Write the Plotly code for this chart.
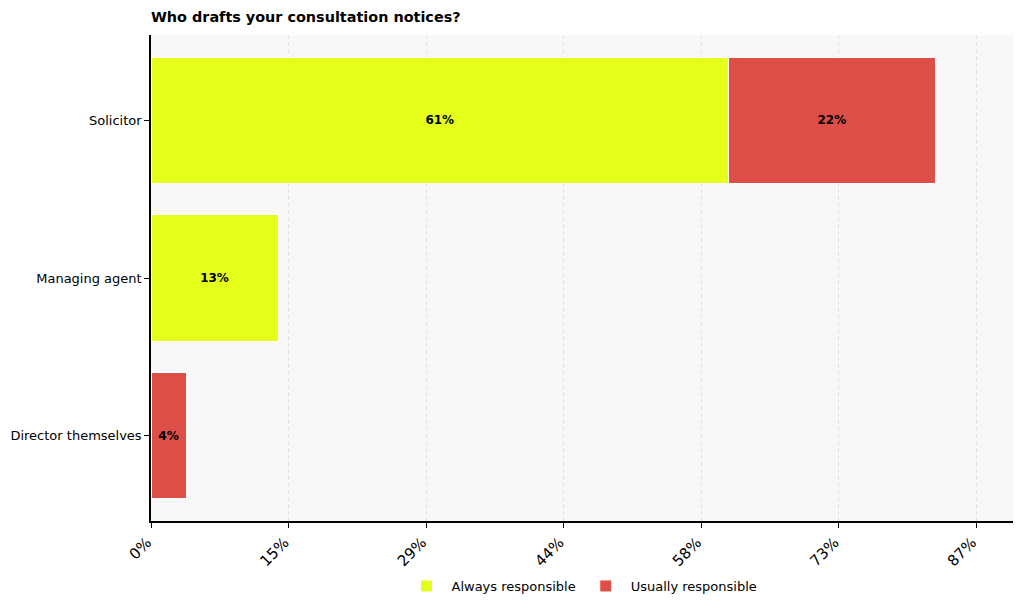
import plotly.graph_objects as go

# survey shares (%)
categories = ["Solicitor", "Managing agent", "Director themselves"]
always = [60.9, 13.4, 0]
usually = [21.8, 0, 3.7]
always_labels = ["61%", "13%", ""]
usually_labels = ["22%", "", "4%"]

tick_vals = [0, 14.5, 29, 43.5, 58, 72.5, 87]
tick_text = ["0%", "15%", "29%", "44%", "58%", "73%", "87%"]

FONT = "DejaVu Sans"
# the page body adds an 8px offset, so margins are measured from there
L, T, R, B = 143, 27, 19, 97

fig = go.Figure()
fig.add_trace(go.Bar(
    y=categories, x=always, orientation="h", name="Always responsible",
    marker=dict(color="#e3ff1a", line=dict(color="white", width=1)),
    text=always_labels, textposition="inside", insidetextanchor="middle",
    textfont=dict(family=FONT, size=12, color="black", weight="bold"),
))
fig.add_trace(go.Bar(
    y=categories, x=usually, orientation="h", name="Usually responsible",
    marker=dict(color="#dc4e46", line=dict(color="white", width=1)),
    text=usually_labels, textposition="inside", insidetextanchor="middle",
    textfont=dict(family=FONT, size=12, color="black", weight="bold"),
))

fig.update_layout(
    barmode="stack",
    bargap=0.2,
    width=1024, height=610,
    margin=dict(l=L, r=R, t=T, b=B, autoexpand=False),
    paper_bgcolor="white",
    plot_bgcolor="#f8f8f8",
    font=dict(family=FONT, size=13, color="black"),
    title=dict(
        text="<b>Who drafts your consultation notices?</b>",
        font=dict(family=FONT, size=14.4, color="black"),
        x=L / 1024, xanchor="left", xref="container",
        y=1 - 9 / 610, yanchor="middle", yref="container",
        automargin=False,
    ),
    legend=dict(
        orientation="h", x=0.5, xanchor="center",
        y=-65 / 486, yanchor="middle",
        font=dict(family=FONT, size=13), traceorder="normal",
        itemwidth=40,
    ),
    uniformtext=dict(minsize=8, mode="show"),
)
fig.update_xaxes(
    range=[0, 90.9], tickvals=tick_vals, ticktext=tick_text, tickangle=-45,
    showgrid=True, gridcolor="#e2e2e2", griddash="4px,3px", gridwidth=0.8,
    showline=True, linecolor="black", linewidth=1.5,
    ticks="outside", ticklen=5, tickcolor="black", zeroline=False,
    tickfont=dict(size=15), ticklabelshift=-4, automargin=False,
)
fig.update_yaxes(
    categoryorder="array", categoryarray=categories, autorange=False,
    range=[2.54, -0.54], showgrid=False,
    showline=True, linecolor="black", linewidth=1.5,
    ticks="outside", ticklen=5, tickcolor="black",
    tickfont=dict(size=13), automargin=False,
)

fig.write_html("out.html")
